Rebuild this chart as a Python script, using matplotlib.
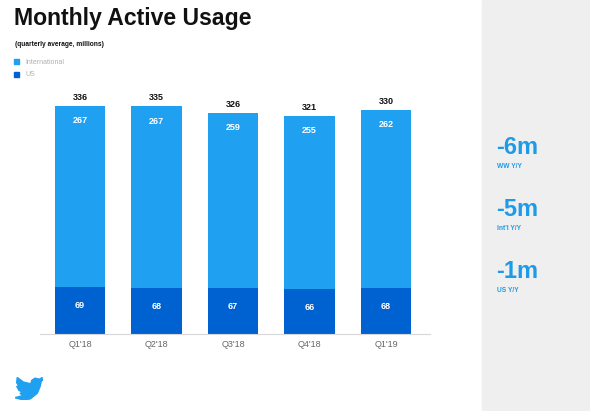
import matplotlib
matplotlib.use("Agg")
import matplotlib.pyplot as plt
from matplotlib.patches import Polygon, Circle, Rectangle

quarters = ["Q1'18", "Q2'18", "Q3'18", "Q4'18", "Q1'19"]
us = [69, 68, 67, 66, 68]
intl = [267, 267, 259, 255, 262]
totals = [336, 335, 326, 321, 330]
kpi_values = ["-6m", "-5m", "-1m"]
kpi_labels = ["WW Y/Y", "Int'l Y/Y", "US Y/Y"]

C_INTL = "#1fa0f0"
C_US = "#0062d0"
W, H = 590, 411

plt.rcParams['font.family'] = ['Liberation Sans', 'DejaVu Sans']
fig = plt.figure(figsize=(W / 100, H / 100), dpi=100)

def fx(px):
    return px / W

def fy(py):
    return 1 - py / H

# gray side panel
fig.patches.append(Rectangle((fx(482), 0), 1 - fx(482), 1, transform=fig.transFigure,
                             color="#efefef", zorder=0))

# chart axes: left 40px, right 430px, bottom 334px, top 80px
ax = fig.add_axes([fx(40), fy(334), fx(430) - fx(40), fy(80) - fy(334)])
x = list(range(len(quarters)))
bw = 0.654
ax.bar(x, us, width=bw, color=C_US, zorder=2)
ax.bar(x, intl, width=bw, bottom=us, color=C_INTL, zorder=2)
ax.set_xlim(-0.523, 4.575)
ax.set_ylim(0, 374)
for s in ["top", "right", "left"]:
    ax.spines[s].set_visible(False)
ax.spines["bottom"].set_color("#d8d8d8")
ax.spines["bottom"].set_linewidth(0.8)
ax.set_yticks([])
ax.set_xticks(x)
ax.set_xticklabels(quarters, fontsize=6.5, color="#666666")
ax.tick_params(axis="x", length=0, pad=4.5)

for i in x:
    ax.text(i, totals[i] + 6, str(totals[i]), ha="center", va="bottom",
            fontsize=6.5, fontweight="bold", color="#111111")
    ax.text(i, us[i] + intl[i] - 22, str(intl[i]), ha="center", va="center",
            fontsize=6.5, fontweight="bold", color="white", zorder=3)
    ax.text(i, us[i] * 0.6, str(us[i]), ha="center", va="center",
            fontsize=6.5, fontweight="bold", color="white", zorder=3)

# titles
fig.text(fx(14), fy(19), "Monthly Active Usage", fontsize=16.6, fontweight="bold",
         color="#111111", va="center", ha="left")
fig.text(fx(15), fy(44), "(quarterly average, millions)", fontsize=4.8, fontweight="bold",
         color="#111111", va="center", ha="left")

# legend
for j, (lab, col) in enumerate([("International", C_INTL), ("US", C_US)]):
    yy = 62 + j * 12
    fig.patches.append(Rectangle((fx(14), fy(yy + 2.5)), fx(5), 5 / H,
                                 transform=fig.transFigure, color=col))
    fig.text(fx(25), fy(yy), lab, fontsize=5, color="#b0b0b0", va="center", ha="left")

# KPI panel
for k, (v, lab) in enumerate(zip(kpi_values, kpi_labels)):
    yv = 147 + k * 62
    fig.text(fx(496), fy(yv), v, fontsize=17, fontweight="bold", color="#1d9be8",
             va="center", ha="left")
    fig.text(fx(497), fy(yv + 19), lab, fontsize=4.8, fontweight="bold", color="#1d9be8",
             va="center", ha="left")

# twitter bird logo (decorative)
bx = fig.add_axes([fx(15), fy(400), fx(28), 23 / H])
bx.set_xlim(0, 1)
bx.set_ylim(0, 1)
bx.axis("off")
bird = [(0.98, 0.98), (0.86, 0.9), (0.72, 0.95), (0.6, 0.85), (0.58, 0.7),
        (0.3, 0.78), (0.08, 0.98), (0.06, 0.75), (0.16, 0.58), (0.06, 0.6),
        (0.14, 0.42), (0.26, 0.35), (0.18, 0.28), (0.3, 0.2), (0.0, 0.1),
        (0.3, 0.0), (0.55, 0.05), (0.8, 0.3), (0.9, 0.6), (0.92, 0.8),
        (1.0, 0.88), (0.93, 0.84)]
bx.add_patch(Polygon(bird, closed=True, color=C_INTL))
bx.add_patch(Circle((0.75, 0.75), 0.17, color=C_INTL))

fig.savefig("out.png", dpi=100)
